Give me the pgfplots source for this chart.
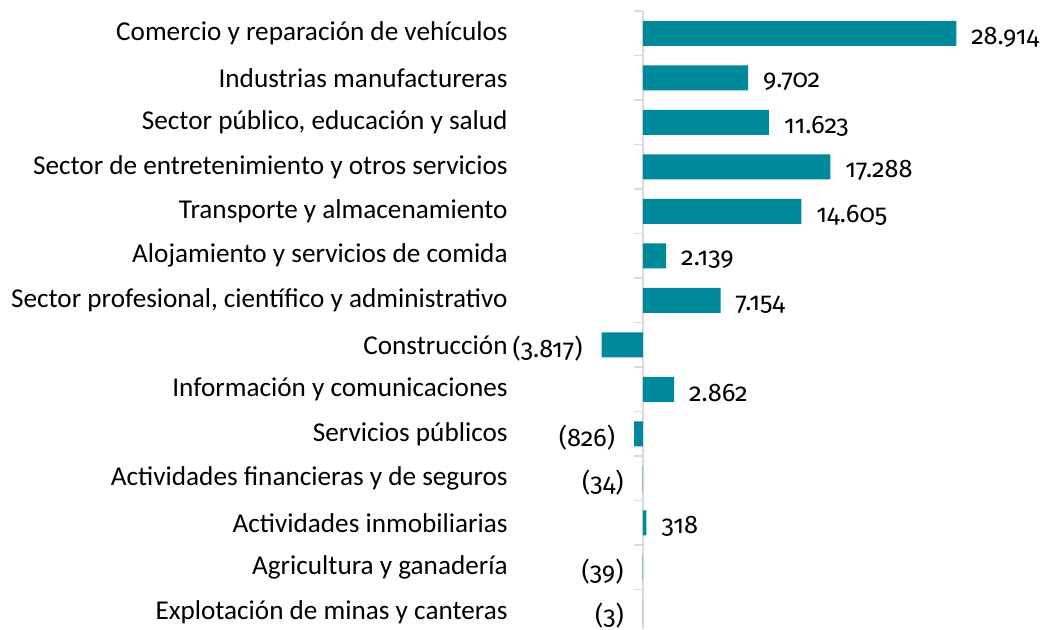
\documentclass[border=0pt]{standalone}
\usepackage{pgfplots}
\pgfplotsset{compat=1.18}
\usepackage{pgfplotstable}
\usepackage{fontspec}
\setmainfont{Carlito}
\newfontfamily\numfont[Numbers=OldStyle]{Fira Sans}
\definecolor{barteal}{HTML}{00899B}
\definecolor{axgray}{HTML}{D9D9D9}

% positive bars
\pgfplotstableread{
y x lab
0 28914 28.914
1 9702 9.702
2 11623 11.623
3 17288 17.288
4 14605 14.605
5 2139 2.139
6 7154 7.154
8 2862 2.862
11 318 318
}\pos
% negative bars
\pgfplotstableread{
y x lab
7 -3817 (3.817)
9 -826 (826)
10 -34 (34)
12 -39 (39)
13 -3 (3)
}\neg

\begin{document}
\begin{tikzpicture}[x=1pt,y=1pt]
\path[use as bounding box] (0,0) rectangle (523,314.5);
\begin{axis}[
  at={(256pt,0pt)}, anchor=south west,
  scale only axis, width=264pt, height=309pt,
  xmin=-12089, xmax=36635,
  ymin=-0.5, ymax=13.388, y dir=reverse,
  axis line style={draw=none}, major tick length=0pt,
  xtick=\empty, ytick={0,...,13},
  yticklabels={
    Comercio y reparación de vehículos,
    Industrias manufactureras,
    {Sector público, educación y salud},
    Sector de entretenimiento y otros servicios,
    Transporte y almacenamiento,
    Alojamiento y servicios de comida,
    {Sector profesional, científico y administrativo},
    Construcción,
    Información y comunicaciones,
    Servicios públicos,
    Actividades financieras y de seguros,
    Actividades inmobiliarias,
    Agricultura y ganadería,
    Explotación de minas y canteras},
  yticklabel style={anchor=east, inner sep=0pt, xshift=-2pt,
    font=\fontsize{13.6}{16}\selectfont},
  clip=false,
  xbar, bar width=12.5pt, bar shift=0pt,
  point meta=explicit symbolic,
  nodes near coords,
  nodes near coords style={font=\numfont\fontsize{12.7}{15}\selectfont, text=black, yshift=-2pt},
]
\pgfplotsinvokeforeach{-0.5,0.5,...,12.5}{
  \draw[axgray, line width=0.8pt] (axis cs:0,#1) -- ++(-4.5pt,0pt);
}
\draw[axgray, line width=0.8pt] (axis cs:0,-0.5) -- (axis cs:0,13.388);
\addplot[fill=barteal, draw=none,
  every node near coord/.append style={anchor=west, xshift=4pt}]
  table[x=x, y=y, meta=lab] {\pos};
\addplot[fill=barteal, draw=none,
  every node near coord/.append style={anchor=east, xshift=-6pt}]
  table[x=x, y=y, meta=lab] {\neg};
\end{axis}
\end{tikzpicture}
\end{document}
